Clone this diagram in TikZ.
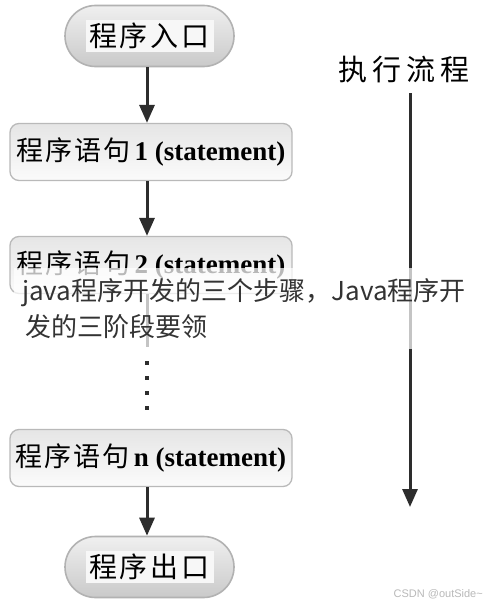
\documentclass[tikz,border=0pt]{standalone}
\usepackage{fontspec}
\setmainfont{Liberation Serif}
\newfontfamily\cjk{Noto Sans CJK SC}
\newfontfamily\wmfont{Liberation Sans}
\usetikzlibrary{arrows.meta,shapes.misc}
\newcommand{\ck}[1]{{\cjk\mdseries #1}}
\begin{document}
\begin{tikzpicture}[x=1pt,y=-1pt,
  flow/.style={draw=gray!35!black, line width=3pt, -{Triangle[width=15pt,length=18pt]}},
  pill/.style={rounded rectangle, draw=gray!60, line width=1.6pt, top color=gray!12, bottom color=gray!42, minimum width=169pt, minimum height=61pt, inner sep=0pt},
  pilltext/.style={fill=gray!6, minimum width=128pt, minimum height=32pt, inner sep=0pt, font=\fontsize{28}{28}\cjk},
  stmt/.style={rectangle, rounded corners=9pt, draw=gray!55, line width=1.3pt, top color=gray!20, bottom color=gray!3, minimum width=282pt, minimum height=57pt, inner sep=0pt, font=\fontsize{27}{27}\selectfont\bfseries},
  dotsq/.style={fill=gray!35!black, minimum size=4.5pt, inner sep=0pt},
  overlay/.style={anchor=base west, inner sep=0pt, text=black!80, font=\fontsize{26}{26}\cjk},
]
\useasboundingbox[fill=white] (0,0) rectangle (490,602);
\coordinate (col) at (147,0);

% nodes
\node[pill] (start) at (149.5,36) {};
\node[pilltext] (startlbl) at (start) {程\kern3pt 序\kern3pt 入\kern3pt 口};
\node[stmt] (s1) at (151,152) {\ck{程\kern2pt 序\kern2pt 语\kern2pt 句}\kern4pt 1 (statement)};
\node[stmt] (s2) at (151,265) {\ck{程\kern2pt 序\kern2pt 语\kern2pt 句}\kern4pt 2 (statement)};
\node[stmt] (sn) at (151,458) {\ck{程\kern2pt 序\kern2pt 语\kern2pt 句}\kern4pt n (statement)};
\node[pill] (end) at (149.5,567) {};
\node[pilltext] (endlbl) at (end) {程\kern3pt 序\kern3pt 出\kern3pt 口};

\node[dotsq] (d1) at (147,363) {};
\node[dotsq] (d2) at (147,378) {};
\node[dotsq] (d3) at (147,393) {};
\node[dotsq] (d4) at (147,408) {};
\coordinate (s2end) at (147,347);

% connectors
\draw[flow] (start.south -| col) -- (s1.north -| col);
\draw[flow] (s1.south -| col) -- (s2.north -| col);
\draw[draw=gray!35!black, line width=3pt] (s2.south -| col) -- (s2end);
\draw[flow] (sn.south -| col) -- (end.north -| col);

% execution flow
\node[font=\fontsize{29}{29}\cjk] (title) at (404,70) {执\kern5pt 行\kern5pt 流\kern5pt 程};
\coordinate (ftop) at (410,93);
\coordinate (fbot) at (410,507);
\draw[flow] (ftop) -- (fbot);

% overlay caption
\fill[white, opacity=0.72] (14,268) rectangle (474,349);
\node[overlay] (cap1) at (22,300) {java程序开发的三个步骤，Java程序开};
\node[overlay] (cap2) at (25,336) {发的三阶段要领};

% watermark
\node[anchor=east, inner sep=0pt, text=gray!55, font=\fontsize{11}{11}\wmfont] (wm) at (483,594) {CSDN @outSide\textasciitilde};
\end{tikzpicture}
\end{document}
